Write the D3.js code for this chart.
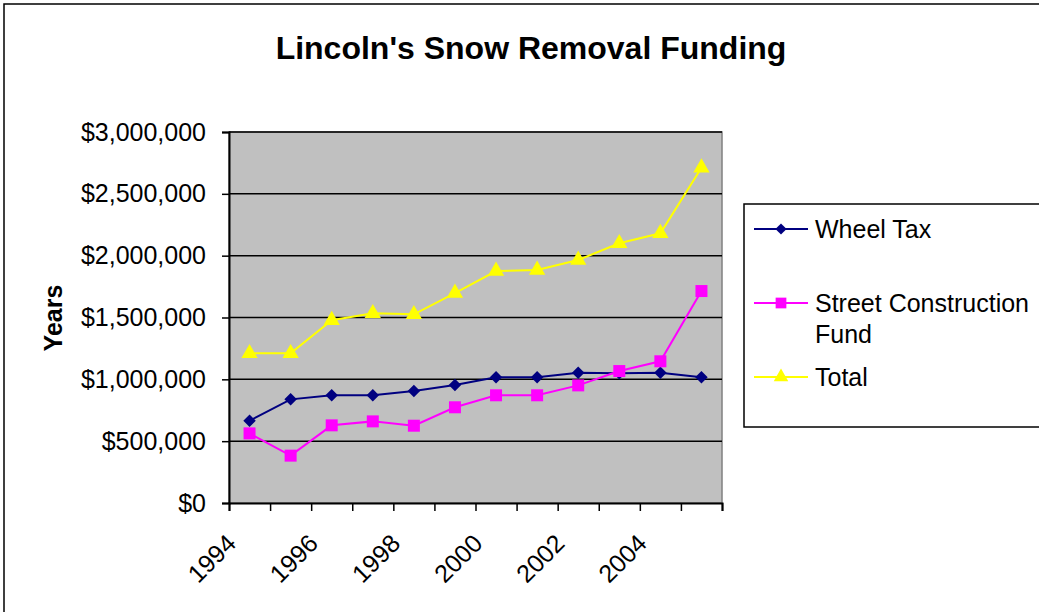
<!DOCTYPE html>
<html lang='en'>
	<head>
		<meta charset='UTF-8'>
		<title>Lincoln's Snow Removal Funding</title>
		<style>
			body { margin: 0; background: #fff; }
			svg { display: block; font-family: 'Liberation Sans', Arial, sans-serif; }
		</style>
	</head>
	<body>
		<svg id='graph' width='1039' height='612'></svg>

		<script src='https://d3js.org/d3.v7.min.js'></script>
		<script>
			const years = [1994, 1995, 1996, 1997, 1998, 1999, 2000, 2001, 2002, 2003, 2004, 2005];
			const wheelTax = [665000, 838000, 871000, 871000, 905000, 954000, 1016000, 1016000, 1054000, 1050000, 1054000, 1016000];
			const streetFund = [563000, 383000, 628000, 660000, 625000, 774000, 871000, 871000, 951000, 1067000, 1146000, 1714000];
			const total = [1210000, 1210000, 1478000, 1534000, 1526000, 1698000, 1876000, 1884000, 1965000, 2100000, 2181000, 2711000];
			const xTickLabels = ['1994', '1996', '1998', '2000', '2002', '2004'];
			const yTicks = [0, 500000, 1000000, 1500000, 2000000, 2500000, 3000000];

			// diamond = square turned 45 degrees, like the spreadsheet marker
			const series = [
				{ name: 'Wheel Tax', values: wheelTax, color: '#000080', symbol: d3.symbolSquare, size: 78, rotate: 45 },
				{ name: 'Street Construction', name2: 'Fund', values: streetFund, color: '#FF00FF', symbol: d3.symbolSquare, size: 144, rotate: 0 },
				{ name: 'Total', values: total, color: '#FFFF00', symbol: d3.symbolTriangle, size: 115, rotate: 0 }
			];

			const plotLeft = 229, plotRight = 722, plotTop = 132, plotBottom = 503;
			const svg = d3.select('#graph');

			// outer chart frame
			svg.append('rect')
				.attr('x', 4).attr('y', 4)
				.attr('width', 1050).attr('height', 620)
				.attr('fill', '#fff').attr('stroke', '#000').attr('stroke-width', 1.5);

			svg.append('text')
				.attr('x', 531).attr('y', 59)
				.attr('text-anchor', 'middle')
				.attr('font-size', 32).attr('font-weight', 'bold')
				.text("Lincoln's Snow Removal Funding");

			const xScale = d3.scaleLinear()
				.domain([years[0], years[years.length - 1] + 1])
				.range([plotLeft, plotRight]);
			const yScale = d3.scaleLinear()
				.domain([0, 3000000])
				.range([plotBottom, plotTop]);

			// plot area
			svg.append('rect')
				.attr('x', plotLeft).attr('y', plotTop)
				.attr('width', plotRight - plotLeft).attr('height', plotBottom - plotTop)
				.attr('fill', '#C0C0C0').attr('stroke', '#808080').attr('stroke-width', 1.5);

			svg.append('g')
				.selectAll('line')
				.data(yTicks.slice(1))
				.enter()
				.append('line')
				.attr('x1', plotLeft).attr('x2', plotRight)
				.attr('y1', (d) => yScale(d)).attr('y2', (d) => yScale(d))
				.attr('stroke', '#000').attr('stroke-width', 1.5);

			const yAxis = d3.axisLeft(yScale)
				.tickValues(yTicks)
				.tickSize(7)
				.tickPadding(16)
				.tickFormat((d) => '$' + d3.format(',')(d));

			const gy = svg.append('g')
				.attr('transform', `translate(${plotLeft}, 0)`)
				.call(yAxis);
			gy.select('.domain').attr('stroke', '#000').attr('stroke-width', 2);
			gy.selectAll('.tick line').attr('stroke', '#000').attr('stroke-width', 1.5);
			gy.selectAll('text')
				.attr('font-size', 25).attr('fill', '#000')
				.attr('font-family', "'Liberation Sans', Arial, sans-serif");

			const xAxis = d3.axisBottom(xScale)
				.tickValues(d3.range(years[0], years[years.length - 1] + 2))
				.tickSize(8)
				.tickFormat((d) => xTickLabels.includes(String(d)) ? String(d) : '');

			const gx = svg.append('g')
				.attr('transform', `translate(0, ${plotBottom})`)
				.call(xAxis);
			gx.select('.domain').attr('stroke', '#000').attr('stroke-width', 2);
			gx.selectAll('.tick line').attr('stroke', '#000').attr('stroke-width', 1.5);
			gx.selectAll('text')
				.attr('font-size', 25).attr('fill', '#000')
				.attr('font-family', "'Liberation Sans', Arial, sans-serif")
				.attr('text-anchor', 'end')
				.attr('dy', 0).attr('y', 0)
				.attr('transform', 'translate(8, 42) rotate(-45)');

			svg.append('text')
				.attr('transform', 'translate(62, 318) rotate(-90)')
				.attr('text-anchor', 'middle')
				.attr('font-size', 25).attr('font-weight', 'bold')
				.text('Years');

			const line = d3.line()
				.x((d, i) => xScale(years[i] + 0.5))
				.y((d) => yScale(d));

			series.forEach((s) => {
				svg.append('path')
					.datum(s.values)
					.attr('d', line)
					.attr('fill', 'none')
					.attr('stroke', s.color)
					.attr('stroke-width', 2);

				svg.append('g')
					.selectAll('path')
					.data(s.values)
					.enter()
					.append('path')
					.attr('d', d3.symbol().type(s.symbol).size(s.size))
					.attr('transform', (d, i) => `translate(${xScale(years[i] + 0.5)}, ${yScale(d)}) rotate(${s.rotate})`)
					.attr('fill', s.color);
			});

			// legend
			svg.append('rect')
				.attr('x', 744).attr('y', 204)
				.attr('width', 320).attr('height', 223)
				.attr('fill', '#fff').attr('stroke', '#000').attr('stroke-width', 1.5);

			const legendY = [229, 303, 377];
			series.forEach((s, i) => {
				const g = svg.append('g').attr('transform', `translate(0, ${legendY[i]})`);
				g.append('line')
					.attr('x1', 754).attr('x2', 808)
					.attr('stroke', s.color).attr('stroke-width', 2);
				g.append('path')
					.attr('d', d3.symbol().type(s.symbol).size(s.size * 0.8))
					.attr('transform', `translate(781, 0) rotate(${s.rotate})`)
					.attr('fill', s.color);
				g.append('text')
					.attr('x', 815).attr('y', 9)
					.attr('font-size', 25)
					.text(s.name);
				if (s.name2) {
					g.append('text')
						.attr('x', 815).attr('y', 40)
						.attr('font-size', 25)
						.text(s.name2);
				}
			});
		</script>
	</body>
</html>
